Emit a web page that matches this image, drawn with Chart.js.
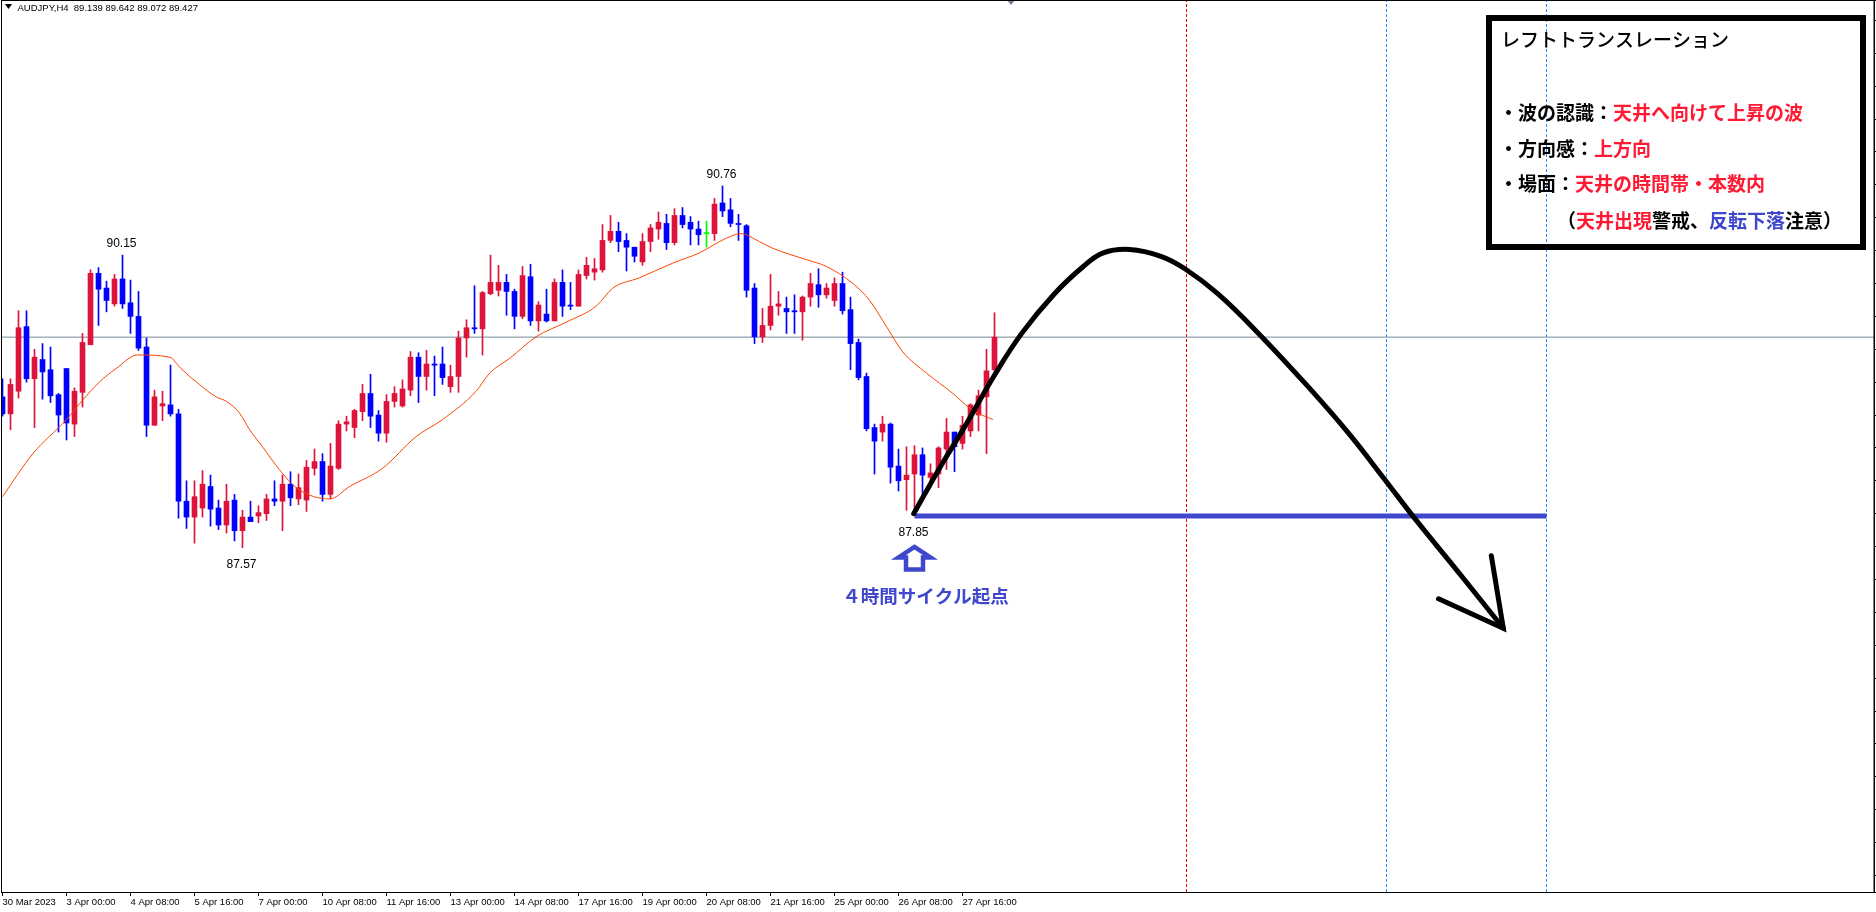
<!DOCTYPE html>
<html>
<head>
<meta charset="utf-8">
<script src="https://cdn.jsdelivr.net/npm/chart.js@4.4.0/dist/chart.umd.min.js"></script>
<style>
  html, body { margin: 0; padding: 0; background: #fff; overflow: hidden; }
  #wrap { position: relative; width: 1876px; height: 912px; }
</style>
</head>
<body>
<div id="wrap"><canvas id="chart"></canvas></div>
<script>
// AUDJPY H4 candles, bar 0 = 30 Mar 2023 16:00
const symbol = "AUDJPY,H4";
const opens = [
  88.90, 88.75, 88.95, 89.52, 89.06, 89.23, 89.14, 88.92, 89.15, 88.66,
  88.94, 89.36, 89.99, 89.86, 89.72, 89.94, 89.73, 89.61, 89.34, 88.65,
  88.82, 88.83, 88.75, 87.98, 87.84, 87.92, 88.11, 87.92, 87.77, 87.99,
  87.72, 87.84, 87.85, 87.87, 88.00, 87.98, 88.13, 88.00, 87.99, 88.27,
  88.33, 88.04, 88.27, 88.66, 88.63, 88.77, 88.93, 88.74, 88.58, 88.86,
  88.82, 88.96, 89.25, 89.08, 89.19, 89.19, 88.99, 89.08, 89.42, 89.51,
  89.50, 89.81, 89.84, 89.91, 89.83, 89.61, 89.96, 89.57, 89.63, 89.57,
  89.91, 89.71, 89.70, 89.97, 90.00, 90.02, 90.28, 90.36, 90.28, 90.22,
  90.09, 90.27, 90.38, 90.43, 90.26, 90.50, 90.44, 90.38, 90.34, 90.34,
  90.61, 90.55, 90.43, 90.41, 89.86, 89.43, 89.53, 89.70, 89.68, 89.66,
  89.65, 89.78, 89.89, 89.80, 89.75, 89.90, 89.67, 89.38, 89.08, 88.63,
  88.59, 88.66, 88.29, 88.17, 88.22, 88.39, 88.19, 88.22, 88.44, 88.59,
  88.49, 88.60, 88.74, 88.90, 89.139
];
const highs = [
  89.06, 89.06, 89.66, 89.66, 89.32, 89.37, 89.34, 88.93, 89.15, 88.98,
  89.46, 90.02, 90.04, 89.92, 89.98, 90.15, 89.93, 89.83, 89.42, 88.96,
  88.95, 89.18, 88.79, 88.16, 88.16, 88.25, 88.21, 87.99, 88.13, 88.04,
  87.90, 87.98, 87.94, 88.04, 88.16, 88.21, 88.24, 88.22, 88.34, 88.44,
  88.40, 88.49, 88.69, 88.73, 88.79, 89.01, 89.10, 88.78, 88.92, 88.99,
  89.05, 89.30, 89.29, 89.31, 89.26, 89.34, 89.18, 89.48, 89.58, 89.88,
  89.83, 90.15, 90.06, 89.98, 89.85, 90.05, 90.07, 89.74, 89.85, 89.94,
  90.02, 89.91, 90.02, 90.13, 90.12, 90.42, 90.50, 90.44, 90.34, 90.22,
  90.34, 90.42, 90.53, 90.51, 90.56, 90.57, 90.49, 90.45, 90.45, 90.65,
  90.76, 90.65, 90.51, 90.42, 89.90, 89.68, 89.98, 89.83, 89.78, 89.80,
  89.79, 89.99, 90.03, 89.90, 89.95, 90.00, 89.78, 89.41, 89.11, 88.66,
  88.73, 88.67, 88.44, 88.46, 88.47, 88.45, 88.31, 88.46, 88.71, 88.59,
  88.73, 88.84, 88.96, 89.32, 89.642
];
const lows = [
  88.73, 88.61, 88.89, 89.03, 88.63, 88.88, 88.85, 88.59, 88.52, 88.55,
  88.81, 89.36, 89.53, 89.65, 89.70, 89.68, 89.46, 89.31, 88.55, 88.65,
  88.69, 88.73, 87.83, 87.74, 87.61, 87.84, 87.76, 87.73, 87.70, 87.63,
  87.57, 87.80, 87.79, 87.81, 87.94, 87.72, 87.94, 87.95, 87.89, 88.21,
  87.98, 88.00, 88.26, 88.60, 88.54, 88.69, 88.63, 88.51, 88.50, 88.81,
  88.81, 88.91, 88.85, 88.96, 88.91, 89.01, 88.94, 88.94, 89.25, 89.46,
  89.27, 89.80, 89.79, 89.62, 89.50, 89.59, 89.53, 89.48, 89.56, 89.57,
  89.61, 89.67, 89.70, 89.94, 89.93, 90.00, 90.26, 90.18, 90.01, 90.09,
  90.06, 90.18, 90.29, 90.20, 90.24, 90.39, 90.24, 90.24, 90.22, 90.28,
  90.49, 90.40, 90.28, 89.78, 89.37, 89.38, 89.49, 89.62, 89.46, 89.46,
  89.40, 89.70, 89.69, 89.77, 89.70, 89.63, 89.14, 89.05, 88.60, 88.22,
  88.51, 88.14, 88.07, 87.90, 87.85, 87.99, 88.10, 88.10, 88.26, 88.24,
  88.44, 88.55, 88.60, 88.40, 89.072
];
const closes = [
  88.75, 89.01, 89.51, 89.06, 89.25, 89.12, 88.91, 88.74, 88.67, 88.95,
  89.38, 89.99, 89.85, 89.75, 89.94, 89.72, 89.61, 89.33, 88.65, 88.90,
  88.84, 88.75, 87.98, 87.84, 88.02, 88.13, 87.91, 87.77, 87.98, 87.72,
  87.84, 87.80, 87.88, 88.00, 87.98, 88.13, 88.01, 88.10, 88.28, 88.33,
  88.04, 88.29, 88.66, 88.68, 88.78, 88.93, 88.73, 88.58, 88.86, 88.93,
  88.97, 89.25, 89.08, 89.19, 89.18, 89.07, 89.08, 89.42, 89.51, 89.50,
  89.82, 89.91, 89.91, 89.83, 89.61, 89.97, 89.57, 89.71, 89.57, 89.91,
  89.70, 89.70, 89.98, 90.06, 90.03, 90.28, 90.36, 90.27, 90.22, 90.14,
  90.27, 90.39, 90.44, 90.26, 90.50, 90.42, 90.38, 90.33, 90.34, 90.60,
  90.54, 90.43, 90.42, 89.84, 89.43, 89.53, 89.70, 89.72, 89.65, 89.65,
  89.78, 89.90, 89.80, 89.86, 89.90, 89.66, 89.37, 89.07, 88.62, 88.51,
  88.66, 88.28, 88.16, 88.21, 88.39, 88.21, 88.23, 88.45, 88.59, 88.46,
  88.65, 88.83, 88.91, 89.13, 89.427
];

// moving average line (bar index, price)
const maBars = [0, 3.8, 8, 10, 12.1, 14.2, 16.9, 20.9, 22.3, 24.6, 26.7, 28, 29.6, 30.9, 32.5, 34.6,
  36.9, 40.9, 43.4, 47.5, 51.7, 55, 59.2, 60.9, 63.4, 66.7, 70.5, 74.2, 76.3, 79.6, 83.8, 87.1,
  90.5, 92.3, 94.6, 96.3, 100.5, 103, 106.3, 108.4, 110.5, 112.5, 115.5, 118.8, 121.3, 123.8];
const maValues = [88.02, 88.40, 88.70, 88.87, 89.03, 89.15, 89.27, 89.25, 89.15, 89.01, 88.90, 88.86, 88.76, 88.61, 88.46, 88.26,
  88.09, 88.00, 88.11, 88.27, 88.55, 88.70, 88.95, 89.11, 89.24, 89.43, 89.56, 89.70, 89.86, 89.95, 90.08, 90.17,
  90.30, 90.34, 90.27, 90.21, 90.11, 90.05, 89.90, 89.75, 89.52, 89.30, 89.11, 88.93, 88.78, 88.70];

// hand drawn scenario arc and arrow head
const curveBars = [113.9, 117.2, 120.3, 123.9, 127.4, 131.5, 135.1, 137.6, 140.9, 144.8, 147.8,
  151.9, 157.0, 163.2, 168.25, 172.8, 176.4, 182.5, 187.6];
const curvePrices = [87.87, 88.28, 88.64, 89.08, 89.46, 89.81, 90.05, 90.17, 90.20, 90.14, 90.03,
  89.81, 89.46, 88.99, 88.58, 88.17, 87.84, 87.31, 86.86];
const arrowBars = [186.1, 187.6, 179.5];
const arrowPrices = [87.50, 86.86, 87.12];

const supportPrice = 87.85;
const supportFrom = 114;
const supportTo = 193;
const redLineBar = 148;
const blueLineBars = [173, 193];

// zigzag high / low marks
const markBars = [15, 30, 90, 114];
const markPrices = [90.15, 87.57, 90.76, 87.85];
const markBelow = [false, true, false, true];

const tickLabels = ["30 Mar 2023", "3 Apr 00:00", "4 Apr 08:00", "5 Apr 16:00", "7 Apr 00:00",
  "10 Apr 08:00", "11 Apr 16:00", "13 Apr 00:00", "14 Apr 08:00", "17 Apr 16:00", "19 Apr 00:00",
  "20 Apr 08:00", "21 Apr 16:00", "25 Apr 00:00", "26 Apr 08:00", "27 Apr 16:00"];

const xMin = -0.0625, xMax = 233.9375;
const yMin = 84.534, yMax = 92.40;

const UP = "#dc143c", DOWN = "#0000ff", DOJI = "#00ff00";
const BLUE_MARK = "#3f48cc", RED_TEXT = "#ff1a33";
const JP = '"Noto Sans CJK JP", "Noto Sans CJK SC", sans-serif';

const candleColors = opens.map((o, k) => closes[k] > o ? UP : (closes[k] < o ? DOWN : DOJI));
const lastBar = opens.length - 1;

function pts(xs, ys) {
  return xs.map((v, k) => ({ x: v, y: ys[k] }));
}

const annotate = {
  id: "annotate",
  afterDatasetsDraw(chart) {
    const { ctx, scales: { x, y } } = chart;
    ctx.save();

    // zigzag price labels
    ctx.font = '12px "Liberation Sans", Arial, sans-serif';
    ctx.fillStyle = "#000";
    ctx.textAlign = "center";
    ctx.textBaseline = "middle";
    markBars.forEach((b, k) => {
      const px = x.getPixelForValue(b) - 1;
      const py = y.getPixelForValue(markPrices[k]) + (markBelow[k] ? 16.5 : -11);
      ctx.fillText(markPrices[k].toFixed(2), px, py);
    });

    // cycle start arrow and label
    const bx = x.getPixelForValue(supportFrom);
    const by = y.getPixelForValue(supportPrice);
    ctx.strokeStyle = BLUE_MARK;
    ctx.lineWidth = 4.5;
    ctx.lineJoin = "miter";
    ctx.beginPath();
    ctx.moveTo(bx, by + 31);
    ctx.lineTo(bx + 16, by + 41.5);
    ctx.lineTo(bx + 8.5, by + 41.5);
    ctx.lineTo(bx + 8.5, by + 53.5);
    ctx.lineTo(bx - 8.5, by + 53.5);
    ctx.lineTo(bx - 8.5, by + 41.5);
    ctx.lineTo(bx - 16, by + 41.5);
    ctx.closePath();
    ctx.stroke();
    ctx.fillStyle = BLUE_MARK;
    ctx.font = "bold 18.5px " + JP;
    ctx.fillText("４時間サイクル起点", bx + 11, by + 80.5);

    // header
    ctx.fillStyle = "#000";
    ctx.beginPath();
    ctx.moveTo(5, 4); ctx.lineTo(12, 4); ctx.lineTo(8.5, 9); ctx.closePath();
    ctx.fill();
    ctx.textAlign = "left";
    ctx.font = '9.5px "Liberation Sans", Arial, sans-serif';
    const ohlc = [opens, highs, lows, closes].map(a => a[lastBar].toFixed(3)).join(" ");
    ctx.fillText(symbol + "  " + ohlc, 17.5, 8);

    // chart shift marker
    ctx.fillStyle = "#708090";
    ctx.beginPath();
    ctx.moveTo(1007, 0); ctx.lineTo(1015, 0); ctx.lineTo(1011, 5); ctx.closePath();
    ctx.fill();

    // info box
    ctx.strokeStyle = "#000";
    ctx.lineWidth = 6;
    ctx.strokeRect(1489, 18, 374, 229);
    ctx.font = "500 19px " + JP;
    ctx.fillStyle = "#000";
    ctx.fillText("レフトトランスレーション", 1501, 40);
    const rows = [
      { x: 1499, y: 112.5, runs: [["・波の認識：", "#000"], ["天井へ向けて上昇の波", RED_TEXT]] },
      { x: 1499, y: 149, runs: [["・方向感：", "#000"], ["上方向", RED_TEXT]] },
      { x: 1499, y: 184, runs: [["・場面：", "#000"], ["天井の時間帯・本数内", RED_TEXT]] },
      { x: 1557, y: 220.5, runs: [["（", "#000"], ["天井出現", RED_TEXT], ["警戒、", "#000"],
        ["反転下落", BLUE_MARK], ["注意）", "#000"]] }
    ];
    ctx.font = "bold 19px " + JP;
    rows.forEach(r => {
      let cx = r.x;
      r.runs.forEach(([t, c]) => {
        ctx.fillStyle = c;
        ctx.fillText(t, cx, r.y);
        cx += ctx.measureText(t).width;
      });
    });

    // chart frame
    ctx.strokeStyle = "#000";
    ctx.lineWidth = 1;
    ctx.strokeRect(1.5, 0.5, 1872.5, 892);
    ctx.restore();
  }
};

const ctx = document.getElementById("chart").getContext("2d");
new Chart(ctx, {
  type: "bar",
  data: {
    datasets: [
      {
        type: "line", label: "bid", order: 10,
        data: pts([xMin, xMax], [closes[lastBar], closes[lastBar]]),
        borderColor: "#778899", borderWidth: 1, pointRadius: 0
      },
      {
        type: "line", label: "red vline", order: 9,
        data: pts([redLineBar, redLineBar], [yMin, yMax]),
        borderColor: "#ff0000", borderWidth: 1, borderDash: [3, 2], pointRadius: 0
      },
      ...blueLineBars.map(b => ({
        type: "line", label: "blue vline", order: 9,
        data: pts([b, b], [yMin, yMax]),
        borderColor: "#1e90ff", borderWidth: 1, borderDash: [3, 2], pointRadius: 0
      })),
      {
        label: "wicks", order: 6, grouped: false,
        data: opens.map((o, k) => ({ x: k, y: [lows[k], highs[k]] })),
        backgroundColor: candleColors, barThickness: 1
      },
      {
        label: "bodies", order: 5, grouped: false,
        data: opens.map((o, k) => ({ x: k, y: [Math.min(o, closes[k]), Math.max(o, closes[k])] })),
        backgroundColor: candleColors, barThickness: 5, minBarLength: 1
      },
      {
        type: "line", label: "MA", order: 4,
        data: pts(maBars, maValues),
        borderColor: "#ff4500", borderWidth: 1, pointRadius: 0, cubicInterpolationMode: "monotone"
      },
      {
        type: "line", label: "support", order: 3,
        data: pts([supportFrom, supportTo], [supportPrice, supportPrice]),
        borderColor: BLUE_MARK, borderWidth: 5, pointRadius: 0
      },
      {
        type: "line", label: "arc", order: 2,
        data: pts(curveBars, curvePrices),
        borderColor: "#000", borderWidth: 5, pointRadius: 0,
        tension: 0.4, borderCapStyle: "round", borderJoinStyle: "round"
      },
      {
        type: "line", label: "arrow head", order: 1,
        data: pts(arrowBars, arrowPrices),
        borderColor: "#000", borderWidth: 5, pointRadius: 0, tension: 0,
        borderCapStyle: "round", borderJoinStyle: "miter"
      }
    ]
  },
  options: {
    responsive: true,
    maintainAspectRatio: false,
    animation: false,
    events: [],
    layout: { padding: { left: 2, top: 0, right: 0, bottom: 0 } },
    plugins: {
      legend: { display: false },
      title: { display: false },
      tooltip: { enabled: false }
    },
    scales: {
      x: {
        type: "linear", min: xMin, max: xMax, offset: false,
        afterFit: s => { s.height = 20; },
        afterBuildTicks: s => { s.ticks = tickLabels.map((_, k) => ({ value: k * 8 })); },
        ticks: {
          autoSkip: false, maxRotation: 0, align: "start", padding: 1, color: "#000",
          font: { family: '"Liberation Sans", Arial, sans-serif', size: 9.5 },
          callback: (v, idx) => tickLabels[idx]
        },
        grid: { drawOnChartArea: false, drawTicks: true, tickLength: 4, color: "#000", offset: false },
        border: { display: true, color: "#000" }
      },
      y: {
        type: "linear", position: "right", min: yMin, max: yMax,
        afterFit: s => { s.width = 2; },
        ticks: { display: false, stepSize: 0.29 },
        grid: { drawOnChartArea: false, drawTicks: true, tickLength: 2, color: "#000" },
        border: { display: true, color: "#000" }
      }
    }
  },
  plugins: [annotate]
});
</script>
</body>
</html>
